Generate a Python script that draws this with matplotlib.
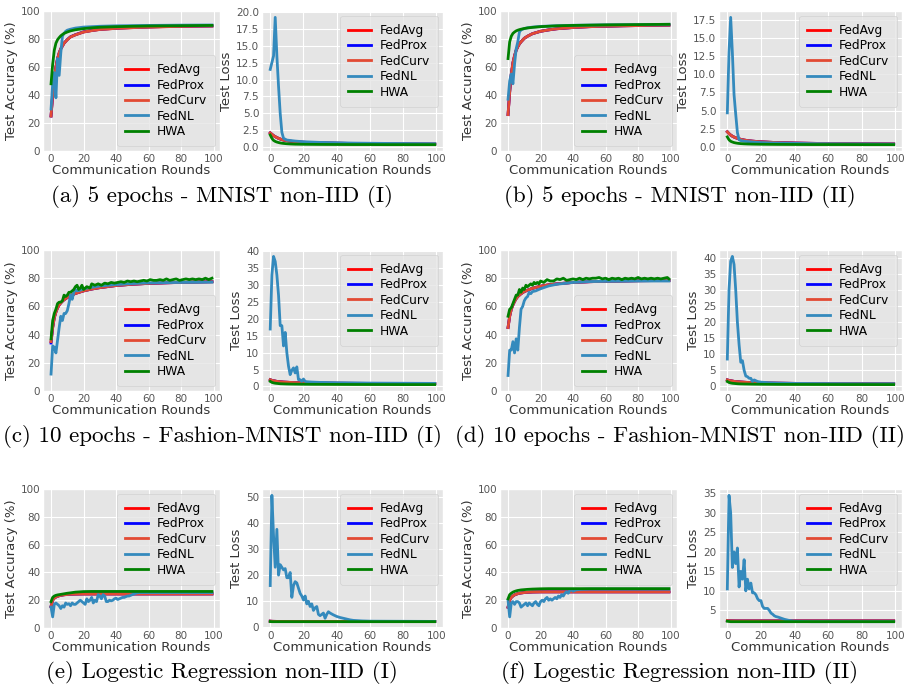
import matplotlib
matplotlib.use("Agg")
import matplotlib.pyplot as plt
from matplotlib.ticker import MultipleLocator

plt.style.use("ggplot")

methods = ["FedAvg", "FedProx", "FedCurv", "FedNL", "HWA"]
colors = ["red", "blue", "#E24A33", "#348ABD", "green"]

captions = ["(a) 5 epochs - MNIST non-IID (I)",
            "(b) 5 epochs - MNIST non-IID (II)",
            "(c) 10 epochs - Fashion-MNIST non-IID (I)",
            "(d) 10 epochs - Fashion-MNIST non-IID (II)",
            "(e) Logestic Regression non-IID (I)",
            "(f) Logestic Regression non-IID (II)"]

# rounds used for the smooth curves
rounds = [0, 1, 2, 3, 4, 5, 6, 7, 8, 10, 12, 15, 20, 25, 30, 40, 50, 60, 70, 80, 90, 99]

# ---------------- (a) ----------------
a_acc_avg = [25, 40, 52, 60, 66, 70, 73, 75, 77, 79.5, 81.5, 83, 85, 86, 86.8, 87.6, 88.1, 88.5, 88.8, 89.0, 89.2, 89.3]
a_acc_prox = [25, 40, 52, 60, 66, 70, 73, 75, 77, 79.6, 81.6, 83.1, 85.1, 86.1, 86.9, 87.7, 88.2, 88.6, 88.9, 89.1, 89.2, 89.3]
a_acc_curv = [25, 40, 52, 60, 66, 70, 73, 75, 77, 79.5, 81.5, 83, 85, 86, 86.8, 87.6, 88.1, 88.5, 88.8, 89.0, 89.2, 89.3]
a_acc_nl_x = [0, 1, 2, 3, 4, 5, 6, 7, 8, 9, 10, 12, 15, 20, 30, 40, 60, 80, 99]
a_acc_nl = [30, 48, 56, 38, 66, 54, 70, 82, 84, 85.5, 86.3, 87, 87.8, 88.5, 89.1, 89.4, 89.7, 89.9, 90]
a_acc_hwa = [48, 62, 72, 77, 79.5, 81, 82.3, 83.2, 84, 85, 85.8, 86.6, 87.4, 88, 88.4, 88.8, 89.1, 89.3, 89.4, 89.5, 89.6, 89.7]

a_loss_avg = [2.1, 1.9, 1.7, 1.55, 1.42, 1.3, 1.2, 1.12, 1.05, 0.95, 0.88, 0.8, 0.72, 0.67, 0.63, 0.58, 0.54, 0.51, 0.49, 0.47, 0.46, 0.45]
a_loss_prox = [2.1, 1.9, 1.7, 1.55, 1.42, 1.3, 1.2, 1.12, 1.05, 0.95, 0.88, 0.8, 0.72, 0.67, 0.63, 0.58, 0.54, 0.51, 0.49, 0.47, 0.46, 0.45]
a_loss_curv = [2.1, 1.9, 1.7, 1.55, 1.42, 1.3, 1.2, 1.12, 1.05, 0.95, 0.88, 0.8, 0.72, 0.67, 0.63, 0.58, 0.54, 0.51, 0.49, 0.47, 0.46, 0.45]
a_loss_nl_x = [0, 1, 2, 3, 4, 5, 6, 7, 8, 10, 15, 20, 30, 50, 70, 99]
a_loss_nl = [11.5, 12.5, 13.5, 19.2, 13.5, 9, 5, 2.2, 1.3, 1.05, 0.9, 0.8, 0.7, 0.6, 0.55, 0.5]
a_loss_hwa = [1.8, 1.3, 1.0, 0.85, 0.75, 0.68, 0.62, 0.58, 0.55, 0.5, 0.47, 0.44, 0.42, 0.41, 0.4, 0.39, 0.38, 0.38, 0.37, 0.37, 0.37, 0.37]

# ---------------- (b) ----------------
b_acc_avg = [26, 42, 55, 63, 68, 72, 74.5, 76.5, 78, 80.5, 82, 83.8, 85.5, 86.5, 87.3, 88.2, 88.8, 89.1, 89.4, 89.6, 89.8, 89.9]
b_acc_prox = [26, 42, 55, 63, 68, 72, 74.5, 76.5, 78, 80.5, 82, 83.8, 85.5, 86.5, 87.3, 88.2, 88.8, 89.1, 89.4, 89.6, 89.8, 89.9]
b_acc_curv = [26, 42, 55, 63, 68, 72, 74.5, 76.5, 78, 80.5, 82, 83.8, 85.5, 86.5, 87.3, 88.2, 88.8, 89.1, 89.4, 89.6, 89.8, 89.9]
b_acc_nl_x = [0, 1, 2, 3, 4, 5, 6, 7, 8, 9, 10, 12, 15, 20, 30, 40, 60, 80, 99]
b_acc_nl = [37, 50, 55, 48, 62, 73, 78, 85, 86.5, 87, 87.5, 88, 88.5, 89, 89.5, 89.8, 90.1, 90.3, 90.5]
b_acc_hwa = [66, 78, 82, 84, 85, 85.8, 86.3, 86.7, 87, 87.5, 87.9, 88.3, 88.8, 89.1, 89.4, 89.7, 89.9, 90.1, 90.2, 90.3, 90.4, 90.5]

b_loss_avg = [2.1, 1.85, 1.65, 1.5, 1.38, 1.28, 1.2, 1.13, 1.07, 0.97, 0.9, 0.82, 0.73, 0.67, 0.62, 0.56, 0.52, 0.49, 0.47, 0.45, 0.44, 0.43]
b_loss_prox = [2.1, 1.85, 1.65, 1.5, 1.38, 1.28, 1.2, 1.13, 1.07, 0.97, 0.9, 0.82, 0.73, 0.67, 0.62, 0.56, 0.52, 0.49, 0.47, 0.45, 0.44, 0.43]
b_loss_curv = [2.1, 1.85, 1.65, 1.5, 1.38, 1.28, 1.2, 1.13, 1.07, 0.97, 0.9, 0.82, 0.73, 0.67, 0.62, 0.56, 0.52, 0.49, 0.47, 0.45, 0.44, 0.43]
b_loss_nl_x = [0, 1, 2, 3, 4, 5, 6, 7, 8, 10, 15, 20, 30, 50, 70, 99]
b_loss_nl = [4.7, 13, 17.8, 13, 7.2, 4.5, 2, 1.0, 0.9, 0.8, 0.7, 0.62, 0.55, 0.48, 0.44, 0.4]
b_loss_hwa = [1.4, 1.0, 0.8, 0.7, 0.62, 0.57, 0.53, 0.5, 0.48, 0.45, 0.43, 0.41, 0.39, 0.38, 0.37, 0.36, 0.35, 0.35, 0.35, 0.34, 0.34, 0.34]

# ---------------- (c) ----------------
c_acc_avg = [35, 45, 52, 56, 59, 61, 62.5, 63.7, 64.7, 66.3, 67.6, 69.2, 71, 72.3, 73.3, 74.8, 75.7, 76.3, 76.7, 77, 77.3, 77.5]
c_acc_prox = [34, 45, 52, 56, 59, 61, 62.5, 63.7, 64.7, 66.3, 67.6, 69.2, 71, 72.3, 73.3, 74.8, 75.7, 76.3, 76.7, 77, 77.3, 77.5]
c_acc_curv = [35, 45, 52, 56, 59, 61, 62.5, 63.7, 64.7, 66.3, 67.6, 69.2, 71, 72.3, 73.3, 74.8, 75.7, 76.3, 76.7, 77, 77.3, 77.5]
c_acc_nl_x = [0, 1, 2, 3, 4, 5, 6, 7, 8, 9, 10, 11, 12, 13, 14, 15, 16, 18, 20, 25, 30, 40, 50, 60, 80, 99]
c_acc_nl = [12, 32, 31, 27, 36, 45, 53, 50, 55, 55, 57, 62, 68, 65, 70, 72, 71, 71.5, 72.5, 73.5, 74.5, 75.5, 76.2, 76.7, 77, 77.2]
c_acc_hwa_x = [0, 1, 2, 3, 4, 5, 6, 7, 8, 9, 10, 11, 12, 13, 14, 15, 16, 17, 18, 19, 20, 22, 24, 25, 27, 29,
               31, 33, 35, 37, 39, 41, 43, 45, 47, 49, 51, 53, 55, 57, 59, 61, 63, 65, 67, 69, 71, 73, 75, 77,
               79, 81, 83, 85, 87, 89, 91, 93, 95, 97, 99]
c_acc_hwa = [37, 50, 55, 58, 62, 63, 63, 64, 68, 67, 68, 70, 70, 71, 72, 74, 75, 72, 73, 75, 72, 74, 73, 76, 75, 76,
             75, 76.5, 76, 77, 76.5, 77, 77.5, 77, 78, 77.5, 78, 77.5, 78, 78.5, 78, 79, 78.5, 78.5, 79, 78.5, 79.5, 78.5, 79, 79.5,
             78.5, 79, 79.5, 79, 79.5, 79, 79.5, 79, 80, 79, 80]

c_loss_avg = [2.0, 1.8, 1.7, 1.6, 1.5, 1.45, 1.4, 1.35, 1.3, 1.25, 1.2, 1.15, 1.1, 1.05, 1.0, 0.95, 0.92, 0.9, 0.88, 0.86, 0.85, 0.84]
c_loss_prox = [2.0, 1.8, 1.7, 1.6, 1.5, 1.45, 1.4, 1.35, 1.3, 1.25, 1.2, 1.15, 1.1, 1.05, 1.0, 0.95, 0.92, 0.9, 0.88, 0.86, 0.85, 0.84]
c_loss_curv = [2.0, 1.8, 1.7, 1.6, 1.5, 1.45, 1.4, 1.35, 1.3, 1.25, 1.2, 1.15, 1.1, 1.05, 1.0, 0.95, 0.92, 0.9, 0.88, 0.86, 0.85, 0.84]
c_loss_nl_x = [0, 1, 2, 3, 4, 5, 6, 7, 8, 9, 10, 11, 12, 13, 14, 15, 16, 17, 18, 19, 20, 21, 22, 25, 30, 40, 60, 80, 99]
c_loss_nl = [17, 33, 38.5, 37, 33, 27, 18, 18, 12, 16, 10, 6, 3.5, 4.8, 5.5, 4, 5.8, 2, 2, 1.5, 2.2, 1.5, 1.4, 1.3, 1.2, 1.1, 1.0, 0.95, 0.9]
c_loss_hwa = [1.5, 1.2, 1.05, 0.95, 0.9, 0.85, 0.8, 0.78, 0.76, 0.72, 0.7, 0.68, 0.65, 0.63, 0.62, 0.6, 0.58, 0.57, 0.56, 0.55, 0.55, 0.55]

# ---------------- (d) ----------------
d_acc_avg = [45, 53, 58, 61, 63.5, 65.5, 67, 68, 69, 70.5, 71.5, 72.8, 74.3, 75.3, 76, 77, 77.5, 77.8, 78, 78.2, 78.3, 78.4]
d_acc_prox = [45, 53, 58, 61, 63.5, 65.5, 67, 68, 69, 70.5, 71.5, 72.8, 74.3, 75.3, 76, 77, 77.5, 77.8, 78, 78.2, 78.3, 78.4]
d_acc_curv = [45, 53, 58, 61, 63.5, 65.5, 67, 68, 69, 70.5, 71.5, 72.8, 74.3, 75.3, 76, 77, 77.5, 77.8, 78, 78.2, 78.3, 78.4]
d_acc_nl_x = [0, 1, 2, 3, 4, 5, 6, 7, 8, 9, 10, 11, 12, 13, 14, 15, 17, 20, 25, 30, 40, 50, 60, 80, 99]
d_acc_nl = [11, 29, 29, 35, 27, 37, 29, 45, 58, 60, 64, 66, 67, 70, 69, 70.5, 71, 72.5, 74.5, 75.7, 77, 77.6, 77.8, 78, 78]
d_acc_hwa_x = [0, 1, 2, 3, 4, 5, 6, 7, 8, 9, 10, 11, 12, 13, 14, 15, 16, 17, 18, 19, 20, 22, 24, 26, 28, 30,
               32, 34, 36, 38, 40, 42, 44, 46, 48, 50, 52, 54, 56, 58, 60, 62, 64, 66, 68, 70, 72, 74, 76, 78,
               80, 82, 84, 86, 88, 90, 92, 94, 96, 98, 99]
d_acc_hwa = [53, 58, 59, 62, 65, 68, 68, 72, 70, 73, 72, 75, 74, 75, 76, 75, 77, 76, 77, 76, 78, 77, 79, 78, 78, 79.5,
             79, 80, 78.5, 79, 79.5, 79, 80, 79, 80, 79.5, 80, 80, 80.5, 79.5, 80, 79, 80, 79.5, 80, 79, 80, 79.5, 80, 79.5,
             80.5, 79.5, 80, 79.5, 80, 79.5, 80, 79.5, 80, 80.5, 79.5]

d_loss_avg = [2.0, 1.85, 1.75, 1.65, 1.55, 1.5, 1.45, 1.4, 1.35, 1.28, 1.22, 1.15, 1.08, 1.02, 0.98, 0.92, 0.88, 0.86, 0.84, 0.83, 0.82, 0.81]
d_loss_prox = [2.0, 1.85, 1.75, 1.65, 1.55, 1.5, 1.45, 1.4, 1.35, 1.28, 1.22, 1.15, 1.08, 1.02, 0.98, 0.92, 0.88, 0.86, 0.84, 0.83, 0.82, 0.81]
d_loss_curv = [2.0, 1.85, 1.75, 1.65, 1.55, 1.5, 1.45, 1.4, 1.35, 1.28, 1.22, 1.15, 1.08, 1.02, 0.98, 0.92, 0.88, 0.86, 0.84, 0.83, 0.82, 0.81]
d_loss_nl_x = [0, 1, 2, 3, 4, 5, 6, 7, 8, 9, 10, 11, 12, 13, 14, 15, 16, 18, 20, 25, 30, 40, 60, 80, 99]
d_loss_nl = [8.5, 30, 39, 40.5, 38, 30, 20, 13, 7.5, 8, 5, 3.2, 3, 2.5, 2.5, 1.5, 2, 1.5, 1.3, 1.1, 1.0, 0.9, 0.85, 0.8, 0.8]
d_loss_hwa = [1.5, 1.2, 1.05, 0.95, 0.9, 0.85, 0.8, 0.77, 0.75, 0.72, 0.7, 0.67, 0.64, 0.62, 0.6, 0.58, 0.57, 0.56, 0.55, 0.55, 0.54, 0.54]

# ---------------- (e) ----------------
e_acc_avg = [15.5, 20, 21.5, 22.3, 22.8, 23.2, 23.5, 23.7, 23.9, 24.1, 24.3, 24.4, 24.5, 24.5, 24.5, 24.5, 24.5, 24.5, 24.5, 24.5, 24.5, 24.5]
e_acc_prox = [15.5, 20, 21.5, 22.3, 22.8, 23.2, 23.5, 23.7, 23.9, 24.1, 24.3, 24.4, 24.5, 24.5, 24.5, 24.5, 24.5, 24.5, 24.5, 24.5, 24.5, 24.5]
e_acc_curv = [15.5, 20, 21.5, 22.3, 22.8, 23.2, 23.5, 23.7, 23.9, 24.1, 24.3, 24.4, 24.5, 24.5, 24.5, 24.5, 24.5, 24.5, 24.5, 24.5, 24.5, 24.5]
e_acc_nl_x = [0, 1, 2, 3, 4, 5, 6, 7, 8, 9, 10, 11, 12, 13, 14, 15, 16, 17, 18, 19, 20, 21, 22, 23, 24, 25,
              26, 27, 28, 29, 30, 31, 32, 33, 34, 35, 36, 37, 38, 39, 40, 41, 42, 43, 44, 45, 46, 47, 48, 49,
              50, 52, 54, 56, 60, 99]
e_acc_nl = [15, 8, 17, 18, 17, 16, 14, 16, 15, 18, 17, 17.5, 16, 18, 17, 17, 18, 19, 20, 19, 18, 17, 21, 19, 20, 22,
            18, 20, 19, 24, 23, 21, 24, 23, 19, 19, 20, 19.5, 20, 21, 21.5, 20.5, 21, 21.5, 22, 22, 22.5, 23, 23, 23.5,
            24, 25, 25.5, 25.5, 25.5, 25.5]
e_acc_hwa = [19, 22, 23, 23.5, 23.8, 24, 24.2, 24.4, 24.6, 25, 25.3, 25.8, 26.2, 26.3, 26.3, 26.3, 26.3, 26.3, 26.3, 26.3, 26.3, 26.3]

e_loss_avg = [2.4, 2.35, 2.33, 2.32, 2.31, 2.3, 2.3, 2.3, 2.3, 2.3, 2.3, 2.3, 2.3, 2.3, 2.3, 2.3, 2.3, 2.3, 2.3, 2.3, 2.3, 2.3]
e_loss_prox = [2.4, 2.35, 2.33, 2.32, 2.31, 2.3, 2.3, 2.3, 2.3, 2.3, 2.3, 2.3, 2.3, 2.3, 2.3, 2.3, 2.3, 2.3, 2.3, 2.3, 2.3, 2.3]
e_loss_curv = [2.4, 2.35, 2.33, 2.32, 2.31, 2.3, 2.3, 2.3, 2.3, 2.3, 2.3, 2.3, 2.3, 2.3, 2.3, 2.3, 2.3, 2.3, 2.3, 2.3, 2.3, 2.3]
e_loss_nl_x = [0, 1, 2, 3, 4, 5, 6, 7, 8, 9, 10, 11, 12, 13, 14, 15, 16, 17, 18, 19, 20, 21, 22, 23, 24, 25,
               26, 27, 28, 29, 30, 31, 32, 33, 34, 35, 36, 38, 40, 42, 44, 46, 48, 50, 55, 60, 99]
e_loss_nl = [16, 50.5, 35, 23, 37.5, 20, 24, 23, 22, 22.5, 19, 19, 21, 11.5, 16, 17.5, 17, 15, 13, 12, 10.5, 12, 9, 10, 8, 9,
             6.5, 7.5, 8, 5, 4.5, 5, 5.5, 3.5, 5, 6, 5.5, 4.8, 4.2, 3.8, 3.5, 3.2, 2.9, 2.7, 2.5, 2.4, 2.3]
e_loss_hwa = [2.25, 2.2, 2.2, 2.2, 2.2, 2.2, 2.2, 2.2, 2.2, 2.2, 2.2, 2.2, 2.2, 2.2, 2.2, 2.2, 2.2, 2.2, 2.2, 2.2, 2.2, 2.2]

# ---------------- (f) ----------------
f_acc_avg = [15, 20, 22, 23, 23.8, 24.3, 24.7, 25, 25.2, 25.5, 25.7, 25.9, 26, 26, 26, 26, 26, 26, 26, 26, 26, 26]
f_acc_prox = [15, 20, 22, 23, 23.8, 24.3, 24.7, 25, 25.2, 25.5, 25.7, 25.9, 26, 26, 26, 26, 26, 26, 26, 26, 26, 26]
f_acc_curv = [15, 20, 22, 23, 23.8, 24.3, 24.7, 25, 25.2, 25.5, 25.7, 25.9, 26, 26, 26, 26, 26, 26, 26, 26, 26, 26]
f_acc_nl_x = [0, 1, 2, 3, 4, 5, 6, 7, 8, 9, 10, 11, 12, 13, 14, 15, 16, 17, 18, 19, 20, 21, 22, 23, 24, 25,
              26, 27, 28, 29, 30, 31, 32, 33, 34, 35, 36, 37, 38, 39, 40, 42, 45, 50, 99]
f_acc_nl = [20, 8, 18, 19, 17, 19, 19, 18, 15, 16, 17, 18, 16, 18, 17, 16, 18, 19, 17, 16, 19, 20, 19, 21, 22, 20,
            21, 20, 21, 22, 21, 23, 22, 24, 23, 25, 26, 25, 27, 27.5, 26.5, 27.5, 27.8, 28, 28]
f_acc_hwa = [21, 24, 25, 25.8, 26.3, 26.7, 27, 27.2, 27.4, 27.6, 27.8, 28, 28.2, 28.3, 28.3, 28.3, 28.3, 28.3, 28.3, 28.3, 28.3, 28.3]

f_loss_avg = [2.4, 2.35, 2.33, 2.32, 2.31, 2.3, 2.3, 2.3, 2.3, 2.3, 2.3, 2.3, 2.3, 2.3, 2.3, 2.3, 2.3, 2.3, 2.3, 2.3, 2.3, 2.3]
f_loss_prox = [2.4, 2.35, 2.33, 2.32, 2.31, 2.3, 2.3, 2.3, 2.3, 2.3, 2.3, 2.3, 2.3, 2.3, 2.3, 2.3, 2.3, 2.3, 2.3, 2.3, 2.3, 2.3]
f_loss_curv = [2.4, 2.35, 2.33, 2.32, 2.31, 2.3, 2.3, 2.3, 2.3, 2.3, 2.3, 2.3, 2.3, 2.3, 2.3, 2.3, 2.3, 2.3, 2.3, 2.3, 2.3, 2.3]
f_loss_nl_x = [0, 1, 2, 3, 4, 5, 6, 7, 8, 9, 10, 11, 12, 13, 14, 15, 16, 17, 18, 19, 20, 21, 22, 23, 24, 25,
               26, 27, 28, 29, 30, 32, 34, 36, 38, 40, 50, 99]
f_loss_nl = [10.5, 34.5, 30, 16, 20, 17, 21, 11, 15, 13, 18, 10, 13, 10.5, 12, 9.5, 9.5, 9, 8, 7.5, 7.5, 6, 5.5, 5.5, 5.5, 5,
             4.3, 4, 3.6, 3.4, 3.3, 3, 2.7, 2.5, 2.3, 2.2, 2.1, 2.1]
f_loss_hwa = [2.2, 2.15, 2.1, 2.1, 2.1, 2.1, 2.1, 2.1, 2.1, 2.1, 2.1, 2.1, 2.1, 2.1, 2.1, 2.1, 2.1, 2.1, 2.1, 2.1, 2.1, 2.1]

panels = [
    (a_acc_avg, a_acc_prox, a_acc_curv, (a_acc_nl_x, a_acc_nl), (rounds, a_acc_hwa),
     a_loss_avg, a_loss_prox, a_loss_curv, (a_loss_nl_x, a_loss_nl), (rounds, a_loss_hwa)),
    (b_acc_avg, b_acc_prox, b_acc_curv, (b_acc_nl_x, b_acc_nl), (rounds, b_acc_hwa),
     b_loss_avg, b_loss_prox, b_loss_curv, (b_loss_nl_x, b_loss_nl), (rounds, b_loss_hwa)),
    (c_acc_avg, c_acc_prox, c_acc_curv, (c_acc_nl_x, c_acc_nl), (c_acc_hwa_x, c_acc_hwa),
     c_loss_avg, c_loss_prox, c_loss_curv, (c_loss_nl_x, c_loss_nl), (rounds, c_loss_hwa)),
    (d_acc_avg, d_acc_prox, d_acc_curv, (d_acc_nl_x, d_acc_nl), (d_acc_hwa_x, d_acc_hwa),
     d_loss_avg, d_loss_prox, d_loss_curv, (d_loss_nl_x, d_loss_nl), (rounds, d_loss_hwa)),
    (e_acc_avg, e_acc_prox, e_acc_curv, (e_acc_nl_x, e_acc_nl), (rounds, e_acc_hwa),
     e_loss_avg, e_loss_prox, e_loss_curv, (e_loss_nl_x, e_loss_nl), (rounds, e_loss_hwa)),
    (f_acc_avg, f_acc_prox, f_acc_curv, (f_acc_nl_x, f_acc_nl), (rounds, f_acc_hwa),
     f_loss_avg, f_loss_prox, f_loss_curv, (f_loss_nl_x, f_loss_nl), (rounds, f_loss_hwa)),
]
loss_steps = [2.5, 2.5, 5, 5, 10, 5]

W, H = 921, 690
fig = plt.figure(figsize=(W / 100, H / 100), dpi=100)

# axes boxes in pixels: (left, right) for acc and loss, per column; (top, bottom) per row
col_px = [((43, 220), (262, 443)), ((500, 677), (719, 902))]
row_px = [(11, 151), (250, 391), (489, 628)]
cap_x = [222, 680]
cap_y = [197, 437, 672]


def box(lr, tb):
    l, r = lr
    t, b = tb
    return [l / W, 1 - b / H, (r - l) / W, (b - t) / H]


def style(ax, ylabel):
    ax.set_xlabel("Communication Rounds", fontsize=9.5, color="#333333", labelpad=0)
    ax.set_ylabel(ylabel, fontsize=9.5, color="#333333", labelpad=2)
    ax.tick_params(labelsize=7.5, colors="#555555", pad=2, length=0)
    ax.set_xticks([0, 20, 40, 60, 80, 100])


for i, p in enumerate(panels):
    row, col = i // 2, i % 2
    acc_lr, loss_lr = col_px[col]
    ax1 = fig.add_axes(box(acc_lr, row_px[row]))
    ax2 = fig.add_axes(box(loss_lr, row_px[row]))

    acc = [(rounds, p[0]), (rounds, p[1]), (rounds, p[2]), p[3], p[4]]
    loss = [(rounds, p[5]), (rounds, p[6]), (rounds, p[7]), p[8], p[9]]
    for (x, y), name, c in zip(acc, methods, colors):
        ax1.plot(x, y, color=c, lw=2, label=name)
    for (x, y), name, c in zip(loss, methods, colors):
        ax2.plot(x, y, color=c, lw=2, label=name)

    ax1.set_ylim(0, 100)
    ax2.yaxis.set_major_locator(MultipleLocator(loss_steps[i]))
    style(ax1, "Test Accuracy (%)")
    style(ax2, "Test Loss")
    leg_loc = "upper right" if row == 2 else "lower right"
    for ax, loc in ((ax1, leg_loc), (ax2, "upper right")):
        ax.legend(loc=loc, fontsize=8.8, labelspacing=0.2, handlelength=1.9,
                  handletextpad=0.7, borderpad=0.65, borderaxespad=0.4)

    fig.text(cap_x[col] / W, 1 - cap_y[row] / H, captions[i], family="cmr10", fontsize=16.6,
             ha="center", va="center", color="black")

fig.savefig("out.png", dpi=100, facecolor="white")
